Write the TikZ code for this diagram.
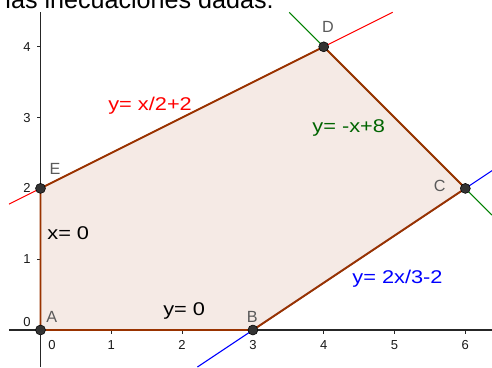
\documentclass[tikz,border=0pt]{standalone}
\usepackage{fontspec}
\setmainfont{Liberation Sans}
\newfontfamily\labfont[FakeStretch=1.18]{Liberation Sans}
\definecolor{polyfill}{RGB}{245,234,229}
\definecolor{polyedge}{RGB}{153,51,0}
\definecolor{lred}{RGB}{255,0,0}
\definecolor{lgreen}{RGB}{0,128,0}
\definecolor{tgreen}{RGB}{0,100,0}
\definecolor{lblue}{RGB}{0,0,255}
\definecolor{ptcol}{RGB}{51,51,51}
\definecolor{ptlab}{RGB}{90,90,90}
\begin{document}
\begin{tikzpicture}[x=1.416cm,y=1.416cm,
  axisline/.style={line width=0.85pt,draw=black!85},
  tickmark/.style={line width=0.6pt,draw=black!85},
  ticklab/.style={font=\fontsize{7.4}{8}\selectfont,text=black!90,inner sep=0pt},
  eqline/.style={line width=0.6pt},
  eqlab/.style={font=\labfont\fontsize{10.5}{12}\selectfont,anchor=base west,inner sep=0pt},
  ptdot/.style={circle,fill=ptcol,draw=black,line width=0.3pt,minimum size=0.2cm,inner sep=0pt},
  ptlabel/.style={font=\fontsize{9.2}{10}\selectfont,text=ptlab,inner sep=0pt}]
\useasboundingbox (-0.572,-0.523) rectangle (6.377,4.661);
% coordinates
\coordinate (A) at (0,0);
\coordinate (B) at (3,0);
\coordinate (C) at (6,2);
\coordinate (D) at (4,4);
\coordinate (E) at (0,2);
% region
\fill[polyfill] (A) -- (B) -- (C) -- (D) -- (E) -- cycle;
% axes
\coordinate (xl) at (-0.445,0);
\coordinate (xr) at (6.377,0);
\coordinate (yb) at (0,-0.523);
\coordinate (yt) at (0,4.487);
\draw[axisline] (xl) -- (xr);
\draw[axisline] (yb) -- (yt);
\foreach \i in {1,...,6} {
  \draw[tickmark] (\i,0) -- (\i,-0.056);
  \node[ticklab] (tx\i) at (\i,-0.212) {\i};
}
\node[ticklab] (tx0) at (0.162,-0.212) {0};
\foreach \j in {1,...,4} {
  \draw[tickmark] (0,\j) -- (-0.056,\j);
  \node[ticklab] (ty\j) at (-0.19,\j) {\j};
}
\node[ticklab] (ty0) at (-0.19,0.113) {0};
% lines
\coordinate (r1) at (-0.445,1.7775);
\coordinate (r2) at (4.974,4.487);
\coordinate (g1) at (3.513,4.487);
\coordinate (g2) at (6.377,1.623);
\coordinate (b1) at (2.2155,-0.523);
\coordinate (b2) at (6.377,2.251);
\draw[eqline,lred] (r1) -- (r2);
\draw[eqline,lgreen] (g1) -- (g2);
\draw[eqline,lblue] (b1) -- (b2);
% polygon edges
\draw[line width=1.1pt,polyedge] (A) -- (B) -- (C) -- (D) -- (E) -- cycle;
% points
\foreach \p in {A,B,C,D,E} { \node[ptdot] (pt\p) at (\p) {}; }
\node[ptlabel] (lA) at (0.16,0.18) {A};
\node[ptlabel] (lB) at (2.99,0.18) {B};
\node[ptlabel] (lC) at (5.64,2.03) {C};
\node[ptlabel] (lD) at (4.06,4.28) {D};
\node[ptlabel] (lE) at (0.205,2.27) {E};
% equation labels
\node[eqlab,text=lred] (eqr) at (0.953,3.107) {y= x/2+2};
\node[eqlab,text=tgreen] (eqg) at (3.835,2.787) {y= -x+8};
\node[eqlab,text=lblue] (eqb) at (4.40,0.65) {y= 2x/3-2};
\node[eqlab,text=black] (eqx) at (0.092,1.285) {x= 0};
\node[eqlab,text=black] (eqy) at (1.73,0.198) {y= 0};
% cropped heading text
\node[anchor=base west,inner sep=0pt,font=\fontsize{14.3}{16}\selectfont] (head) at (-0.50,4.534) {las inecuaciones dadas.};
\end{tikzpicture}
\end{document}
